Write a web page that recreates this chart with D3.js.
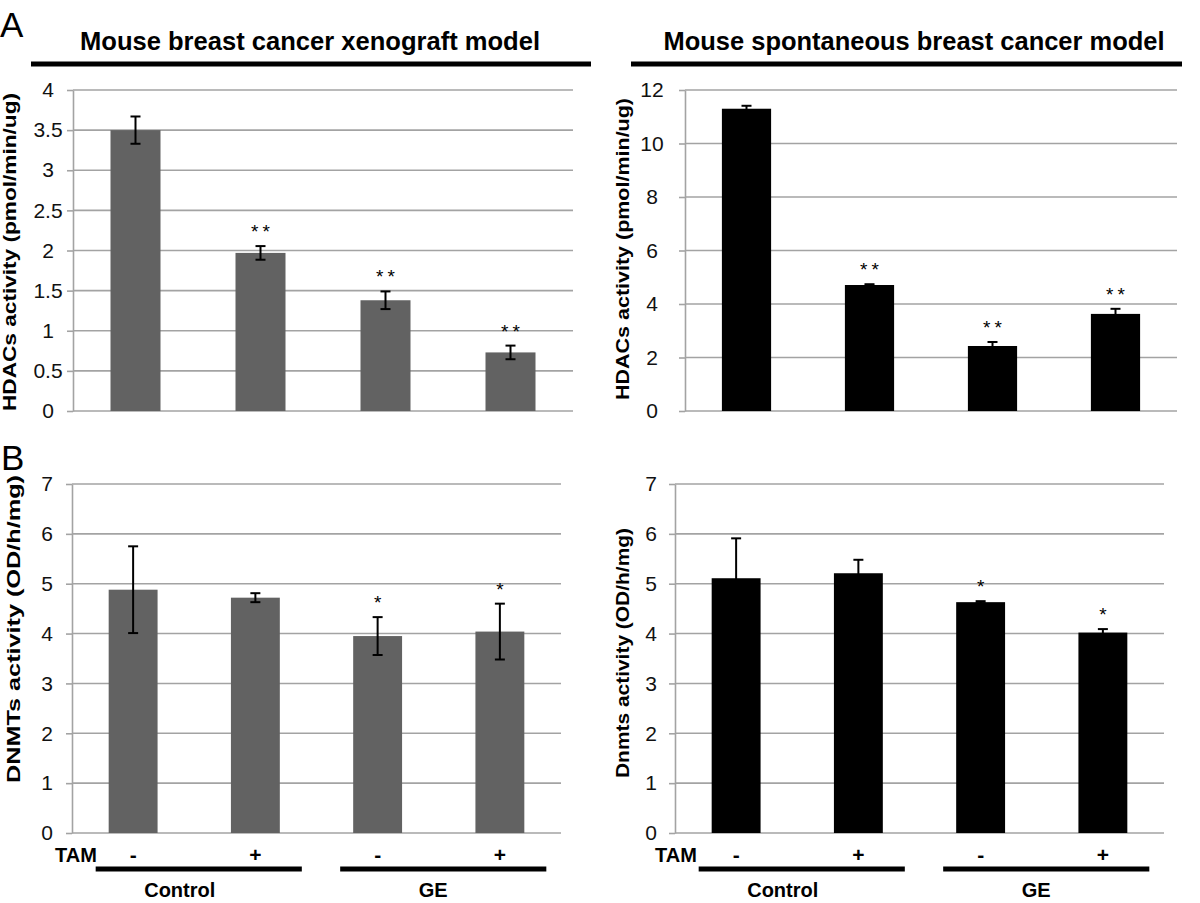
<!DOCTYPE html>
<html><head><meta charset="utf-8">
<script src="https://cdn.jsdelivr.net/npm/d3@7"></script>
<style>body{margin:0;background:#fff}svg{display:block;font-family:"Liberation Sans",Arial,Helvetica,sans-serif}</style>
</head><body><svg id="c" width="1200" height="903"></svg>
<script>
// ---- data ----
const categories = ["Control TAM-", "Control TAM+", "GE TAM-", "GE TAM+"];
const tamLabels = ["-", "+", "-", "+"];
const groupLabels = ["Control", "GE"];

const hdacXenoValues = [3.50, 1.97, 1.38, 0.73];
const hdacXenoErrors = [0.17, 0.085, 0.11, 0.085];
const hdacXenoSig = ["", "**", "**", "**"];
const hdacXenoTicks = [0, 0.5, 1, 1.5, 2, 2.5, 3, 3.5, 4];

const hdacSponValues = [11.30, 4.71, 2.43, 3.63];
const hdacSponErrors = [0.11, 0.03, 0.15, 0.19];
const hdacSponSig = ["", "**", "**", "**"];
const hdacSponTicks = [0, 2, 4, 6, 8, 10, 12];

const dnmtXenoValues = [4.88, 4.72, 3.95, 4.04];
const dnmtXenoErrors = [0.87, 0.09, 0.38, 0.56];
const dnmtXenoSig = ["", "", "*", "*"];

const dnmtSponValues = [5.11, 5.21, 4.63, 4.02];
const dnmtSponErrors = [0.80, 0.27, 0.02, 0.07];
const dnmtSponSig = ["", "", "*", "*"];
const dnmtTicks = [0, 1, 2, 3, 4, 5, 6, 7];

const panelTitles = ["Mouse breast cancer xenograft model", "Mouse spontaneous breast cancer model"];
const yTitles = ["HDACs activity (pmol/min/ug)", "HDACs activity (pmol/min/ug)", "DNMTs activity (OD/h/mg)", "Dnmts activity (OD/h/mg)"];

// ---- drawing ----
const svg = d3.select("#c");
const GRID = "#a3a3a3";

const defs = svg.append("defs");
defs.append("filter").attr("id", "blur").append("feGaussianBlur").attr("stdDeviation", 1.5);

function thickLine(x1, x2, y) {
  svg.append("line").attr("x1", x1).attr("x2", x2).attr("y1", y + 3).attr("y2", y + 3)
    .attr("stroke", "#aaa").attr("stroke-width", 4).attr("filter", "url(#blur)");
  svg.append("line").attr("x1", x1).attr("x2", x2).attr("y1", y).attr("y2", y)
    .attr("stroke", "#000").attr("stroke-width", 5);
}

function panel(o) {
  const g = svg.append("g");
  const x = d3.scaleBand().domain(categories).range([o.x0, o.x1]).paddingInner(0.6).paddingOuter(0.3);
  const y = d3.scaleLinear().domain([0, d3.max(o.ticks)]).range([o.yBot, o.yTop]);

  g.append("g").selectAll("line").data(o.ticks).join("line")
    .attr("x1", o.x0).attr("x2", o.x1).attr("y1", d => y(d)).attr("y2", d => y(d))
    .attr("stroke", GRID).attr("stroke-width", 1.6);

  const ax = g.append("g").attr("transform", `translate(${o.x0},0)`)
    .call(d3.axisLeft(y).tickValues(o.ticks).tickSize(6).tickSizeOuter(0).tickFormat(d => String(d)));
  ax.select(".domain").attr("stroke", GRID).attr("stroke-width", 1.6);
  ax.selectAll(".tick line").attr("stroke", GRID).attr("stroke-width", 1.6);
  ax.selectAll(".tick text").attr("font-size", 21).attr("fill", "#111")
    .attr("text-anchor", "middle").attr("x", o.labelX - o.x0)
    .attr("font-family", "'Liberation Sans', Arial, sans-serif");

  g.append("g").selectAll("rect").data(o.values).join("rect")
    .attr("x", (d, i) => x(categories[i])).attr("width", x.bandwidth())
    .attr("y", d => y(d)).attr("height", d => o.yBot - y(d))
    .attr("fill", o.color);

  const eb = g.append("g").attr("stroke", "#000").attr("stroke-width", 2);
  o.values.forEach((v, i) => {
    const cx = x(categories[i]) + x.bandwidth() / 2;
    const e = o.errors[i];
    eb.append("line").attr("x1", cx).attr("x2", cx).attr("y1", y(v - e)).attr("y2", y(v + e));
    eb.append("line").attr("x1", cx - 5).attr("x2", cx + 5).attr("y1", y(v + e)).attr("y2", y(v + e));
    eb.append("line").attr("x1", cx - 5).attr("x2", cx + 5).attr("y1", y(v - e)).attr("y2", y(v - e));
  });

  g.append("g").selectAll("text").data(o.sig).join("text")
    .attr("x", (d, i) => x(categories[i]) + x.bandwidth() / 2 + (d.length > 1 ? 2 : 0))
    .attr("y", (d, i) => y(o.values[i] + o.errors[i]) - 8)
    .attr("text-anchor", "middle").attr("font-size", 19).attr("letter-spacing", d => d.length > 1 ? 4 : 0)
    .text(d => d);

  g.append("text").attr("transform", `translate(${o.ylx},${o.lyc}) rotate(-90)`)
    .attr("text-anchor", "middle").attr("font-weight", "bold").attr("font-size", 19)
    .attr("textLength", o.ylen).attr("lengthAdjust", "spacingAndGlyphs")
    .text(o.ytitle);

  return x;
}

svg.append("text").attr("x", 0).attr("y", 37).attr("font-size", 35).text("A");
svg.append("text").attr("x", 1).attr("y", 470).attr("font-size", 35).text("B");

svg.append("text").attr("x", 310).attr("y", 50).attr("text-anchor", "middle").attr("font-weight", "bold")
  .attr("font-size", 25).attr("textLength", 460).attr("lengthAdjust", "spacingAndGlyphs").text(panelTitles[0]);
svg.append("text").attr("x", 914).attr("y", 50).attr("text-anchor", "middle").attr("font-weight", "bold")
  .attr("font-size", 25).attr("textLength", 501).attr("lengthAdjust", "spacingAndGlyphs").text(panelTitles[1]);
thickLine(31, 591, 64);
thickLine(631, 1182, 64);

const xA1 = panel({x0: 73, x1: 573, yTop: 90, yBot: 411, ticks: hdacXenoTicks, values: hdacXenoValues, errors: hdacXenoErrors,
  sig: hdacXenoSig, color: "#626262", ytitle: yTitles[0], ylx: 16, lyc: 252, ylen: 318, labelX: 48});
const xA2 = panel({x0: 685, x1: 1177, yTop: 90, yBot: 411, ticks: hdacSponTicks, values: hdacSponValues, errors: hdacSponErrors,
  sig: hdacSponSig, color: "#000", ytitle: yTitles[1], ylx: 629, lyc: 249, ylen: 302, labelX: 652});
const xB1 = panel({x0: 72, x1: 561, yTop: 484, yBot: 833, ticks: dnmtTicks, values: dnmtXenoValues, errors: dnmtXenoErrors,
  sig: dnmtXenoSig, color: "#626262", ytitle: yTitles[2], ylx: 20, lyc: 629, ylen: 308, labelX: 47});
const xB2 = panel({x0: 675, x1: 1164, yTop: 484, yBot: 833, ticks: dnmtTicks, values: dnmtSponValues, errors: dnmtSponErrors,
  sig: dnmtSponSig, color: "#000", ytitle: yTitles[3], ylx: 629, lyc: 653, ylen: 250, labelX: 651});

function bottom(x, tamX) {
  const bw = x.bandwidth();
  svg.append("text").attr("x", tamX).attr("y", 862).attr("font-weight", "bold").attr("font-size", 20).text("TAM");
  tamLabels.forEach((t, i) => {
    svg.append("text").attr("x", x(categories[i]) + bw / 2).attr("y", 862).attr("text-anchor", "middle")
      .attr("font-weight", "bold").attr("font-size", 21).text(t);
  });
  const shift = [-19, -10];
  [[0, 1], [2, 3]].forEach((pair, i) => {
    const l0 = x(categories[pair[0]]) - 13, l1 = x(categories[pair[1]]) + bw + 22;
    thickLine(l0, l1, 869);
    svg.append("text").attr("x", (l0 + l1) / 2 + shift[i]).attr("y", 897).attr("text-anchor", "middle")
      .attr("font-weight", "bold").attr("font-size", 20).text(groupLabels[i]);
  });
}
bottom(xB1, 55);
bottom(xB2, 655);
</script></body></html>
